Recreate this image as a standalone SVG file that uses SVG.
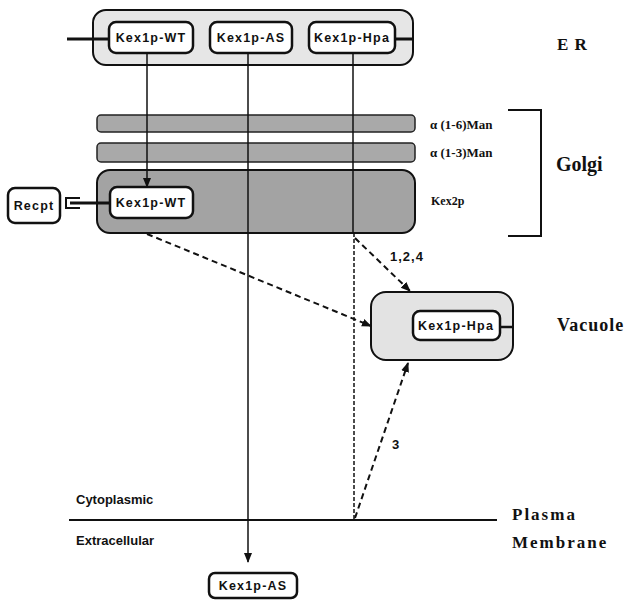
<svg xmlns="http://www.w3.org/2000/svg" width="634" height="600" viewBox="0 0 634 600">
<style>
.kb{fill:#fff;stroke:#111;stroke-width:2.5}
.kt{font-family:"Liberation Sans",Arial,sans-serif;font-weight:bold;font-size:12.5px;letter-spacing:1.2px;fill:#111;text-anchor:middle}
.lab{font-family:"Liberation Serif","Times New Roman",serif;font-weight:bold;fill:#111}
.sl{font-family:"Liberation Sans",Arial,sans-serif;font-weight:bold;font-size:13px;fill:#111}
.ln{stroke:#111;stroke-width:1.5;fill:none}
.dl{stroke:#111;stroke-width:2;fill:none;stroke-dasharray:6 4}
.dv{stroke:#111;stroke-width:1.5;fill:none;stroke-dasharray:4 2}
</style>
<defs>
<marker id="ah" markerWidth="10" markerHeight="10" refX="9" refY="5" orient="auto" markerUnits="userSpaceOnUse"><path d="M0,1 L10,5 L0,9 Z" fill="#111"/></marker>
</defs>
<rect width="634" height="600" fill="#fff"/>

<g id="er">
<rect x="93" y="10" width="320" height="55" rx="13" fill="#e6e6e6" stroke="#111" stroke-width="2"/>
<line x1="67" y1="39" x2="109" y2="39" stroke="#111" stroke-width="3"/>
<line x1="395" y1="39" x2="413" y2="39" stroke="#111" stroke-width="3"/>
<text class="lab" x="557" y="50" font-size="17" letter-spacing="1">E R</text>
</g>
<g id="kex1p-wt-er"><rect class="kb" x="109" y="22" width="84" height="31" rx="7"/><text class="kt" x="151" y="42">Kex1p-WT</text></g>
<g id="kex1p-as-er"><rect class="kb" x="210" y="22" width="82" height="31" rx="7"/><text class="kt" x="251" y="42">Kex1p-AS</text></g>
<g id="kex1p-hpa-er"><rect class="kb" x="309" y="22" width="86" height="31" rx="7"/><text class="kt" x="352" y="42">Kex1p-Hpa</text></g>

<g id="golgi">
<rect x="97" y="115" width="318" height="17" rx="4" fill="#a9a9a9" stroke="#222" stroke-width="1.5"/>
<rect x="97" y="143" width="318" height="19" rx="4" fill="#a9a9a9" stroke="#222" stroke-width="1.5"/>
<rect x="97" y="170" width="318" height="63" rx="13" fill="#a3a3a3" stroke="#111" stroke-width="2"/>
<text class="lab" x="430" y="129" font-size="13">α (1-6)Man</text>
<text class="lab" x="430" y="157" font-size="13">α (1-3)Man</text>
<text class="lab" x="431" y="205" font-size="12">Kex2p</text>
<path d="M508,110 H541 V236 H508" stroke="#111" stroke-width="2" fill="none"/>
<text class="lab" x="556" y="171" font-size="20">Golgi</text>
</g>
<g id="recpt">
<rect class="kb" x="8" y="188" width="52" height="35" rx="7" stroke-width="2"/>
<text class="kt" x="34" y="210" letter-spacing="0.5">Recpt</text>
<path d="M80,198 H66 V208 H80" stroke="#111" stroke-width="2" fill="none"/>
<line x1="70" y1="203" x2="110" y2="203" stroke="#111" stroke-width="3"/>
</g>
<g id="kex1p-wt-golgi"><rect class="kb" x="110" y="187" width="83" height="31" rx="7"/><text class="kt" x="151" y="207">Kex1p-WT</text></g>

<g id="vacuole">
<rect x="371" y="292" width="142" height="68" rx="15" fill="#e3e3e3" stroke="#111" stroke-width="2"/>
<line x1="500" y1="327" x2="513" y2="327" stroke="#111" stroke-width="2.5"/>
<rect class="kb" x="413" y="311" width="87" height="29" rx="7"/>
<text class="kt" x="456" y="330">Kex1p-Hpa</text>
<text class="lab" x="557" y="331" font-size="18" letter-spacing="1">Vacuole</text>
</g>

<g id="membrane">
<line x1="69" y1="520" x2="497" y2="520" stroke="#111" stroke-width="1.8"/>
<text class="sl" x="76" y="504">Cytoplasmic</text>
<text class="sl" x="76" y="545">Extracellular</text>
<text class="lab" x="512" y="520" font-size="17" letter-spacing="2">Plasma</text>
<text class="lab" x="512" y="548" font-size="17" letter-spacing="2">Membrane</text>
</g>

<g id="kex1p-as-out"><rect class="kb" x="209" y="573" width="88" height="25" rx="6"/><text class="kt" x="253" y="590">Kex1p-AS</text></g>

<g id="connectors">
<line class="ln" x1="147" y1="53" x2="147" y2="187" marker-end="url(#ah)"/>
<line class="ln" x1="248" y1="53" x2="248" y2="562" marker-end="url(#ah)"/>
<line class="ln" x1="353" y1="53" x2="353" y2="233"/>
<line class="dv" x1="354" y1="233" x2="354" y2="520"/>
<line class="dl" x1="147" y1="234" x2="371" y2="326" marker-end="url(#ah)"/>
<line class="dl" x1="355" y1="238" x2="410" y2="291" marker-end="url(#ah)"/>
<line class="dl" x1="355" y1="518" x2="408" y2="363" marker-end="url(#ah)"/>
<text class="sl" x="390" y="261" letter-spacing="1">1,2,4</text>
<text class="sl" x="392" y="449">3</text>
</g>
</svg>
